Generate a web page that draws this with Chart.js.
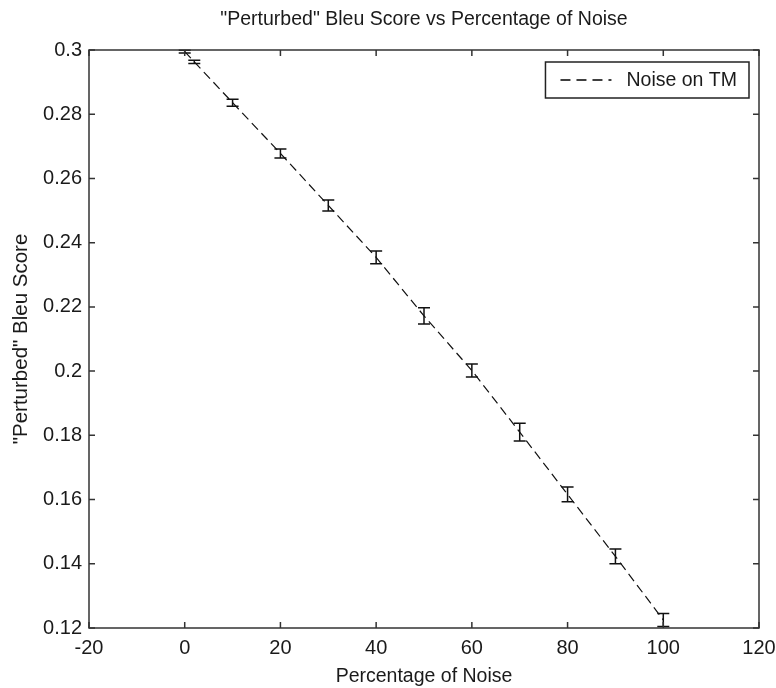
<!DOCTYPE html>
<html>
<head>
<meta charset="utf-8">
<script src="https://cdn.jsdelivr.net/npm/chart.js@4.4.0/dist/chart.umd.min.js"></script>
<style>
  html, body { margin: 0; padding: 0; background: #fff; }
  #wrap { width: 776px; height: 688px; }
</style>
</head>
<body>
<div id="wrap"><canvas id="chart"></canvas></div>
<script>
const noisePct = [0, 2, 10, 20, 30, 40, 50, 60, 70, 80, 90, 100];
const bleuScore = [0.2995, 0.2963, 0.2836, 0.2678, 0.2516, 0.2354, 0.2172, 0.2002, 0.181, 0.1616, 0.1423, 0.1225];
const bleuErr = [0.0004, 0.0005, 0.0011, 0.0014, 0.0017, 0.002, 0.0025, 0.002, 0.0028, 0.0023, 0.0023, 0.002];
const xTicks = [-20, 0, 20, 40, 60, 80, 100, 120];
const yTicks = [0.12, 0.14, 0.16, 0.18, 0.2, 0.22, 0.24, 0.26, 0.28, 0.3];
const seriesLabel = 'Noise on TM';

const FONT = "'Liberation Sans', Arial, sans-serif";
const INK = '#1a1a1a';

// error bars, drawn through the chart scales
const errorBars = {
  id: 'errorBars',
  afterDatasetsDraw(chart) {
    const { ctx, scales: { x, y } } = chart;
    ctx.save();
    ctx.strokeStyle = '#111';
    ctx.lineWidth = 1.5;
    noisePct.forEach((v, i) => {
      const px = x.getPixelForValue(v);
      const top = y.getPixelForValue(bleuScore[i] + bleuErr[i]);
      const bot = y.getPixelForValue(bleuScore[i] - bleuErr[i]);
      ctx.beginPath();
      ctx.moveTo(px, top); ctx.lineTo(px, bot);
      ctx.moveTo(px - 6, top); ctx.lineTo(px + 6, top);
      ctx.moveTo(px - 6, bot); ctx.lineTo(px + 6, bot);
      ctx.stroke();
    });
    ctx.restore();
  }
};

// matlab style box with inward ticks on all four sides
const axesBox = {
  id: 'axesBox',
  afterDraw(chart) {
    const { ctx, chartArea: a, scales: { x, y } } = chart;
    ctx.save();
    ctx.strokeStyle = '#333';
    ctx.lineWidth = 1.5;
    ctx.strokeRect(a.left, a.top, a.right - a.left, a.bottom - a.top);
    ctx.beginPath();
    xTicks.forEach(v => {
      const px = x.getPixelForValue(v);
      ctx.moveTo(px, a.bottom); ctx.lineTo(px, a.bottom - 6);
      ctx.moveTo(px, a.top); ctx.lineTo(px, a.top + 6);
    });
    yTicks.forEach(v => {
      const py = y.getPixelForValue(v);
      ctx.moveTo(a.left, py); ctx.lineTo(a.left + 6, py);
      ctx.moveTo(a.right, py); ctx.lineTo(a.right - 6, py);
    });
    ctx.stroke();
    ctx.restore();
  }
};

// boxed legend in the top right corner of the plot
const boxLegend = {
  id: 'boxLegend',
  afterDraw(chart) {
    const { ctx, chartArea: a } = chart;
    const label = chart.data.datasets[0].label;
    ctx.save();
    ctx.font = '19.5px ' + FONT;
    const tw = ctx.measureText(label).width;
    const right = a.right - 10, top = a.top + 12, h = 36;
    const left = right - (15 + 51 + 15 + tw + 12);
    ctx.fillStyle = '#fff';
    ctx.fillRect(left, top, right - left, h);
    ctx.strokeStyle = '#222';
    ctx.lineWidth = 1.5;
    ctx.strokeRect(left, top, right - left, h);
    ctx.beginPath();
    ctx.setLineDash([10, 6]);
    ctx.strokeStyle = '#000';
    ctx.lineWidth = 1.4;
    ctx.moveTo(left + 15, top + h / 2);
    ctx.lineTo(left + 66, top + h / 2);
    ctx.stroke();
    ctx.setLineDash([]);
    ctx.fillStyle = INK;
    ctx.textBaseline = 'middle';
    ctx.fillText(label, left + 81, top + h / 2 + 1);
    ctx.restore();
  }
};

new Chart(document.getElementById('chart'), {
  type: 'line',
  data: {
    datasets: [{
      label: seriesLabel,
      data: noisePct.map((v, i) => ({ x: v, y: bleuScore[i] })),
      borderColor: '#111',
      borderWidth: 1.2,
      borderDash: [9, 5],
      pointRadius: 0,
      fill: false,
      tension: 0
    }]
  },
  options: {
    responsive: true,
    maintainAspectRatio: false,
    animation: false,
    layout: { padding: { left: 0, right: 17, top: 0, bottom: 0 } },
    plugins: {
      legend: { display: false },
      tooltip: { enabled: false },
      title: {
        display: true,
        fullSize: false,
        text: '"Perturbed" Bleu Score vs Percentage of Noise',
        color: INK,
        font: { family: FONT, size: 19.5, weight: 'normal', lineHeight: 1.2 },
        padding: { top: 8, bottom: 18.6 }
      }
    },
    scales: {
      x: {
        type: 'linear',
        min: -20,
        max: 120,
        afterBuildTicks: s => { s.ticks = xTicks.map(v => ({ value: v })); },
        afterFit: s => { s.height = 60; s.paddingLeft = 0; s.paddingRight = 0; },
        grid: { display: false },
        border: { display: false },
        ticks: { color: INK, padding: 0, maxRotation: 0, font: { family: FONT, size: 20 } },
        title: {
          display: true,
          text: 'Percentage of Noise',
          color: INK,
          font: { family: FONT, size: 19.5, lineHeight: 1.2 },
          padding: { top: 0, bottom: 0 }
        }
      },
      y: {
        type: 'linear',
        min: 0.12,
        max: 0.3,
        afterBuildTicks: s => { s.ticks = yTicks.map(v => ({ value: v })); },
        afterFit: s => { s.width = 89; s.paddingTop = 0; s.paddingBottom = 0; },
        grid: { display: false, drawTicks: false },
        border: { display: false },
        ticks: {
          color: INK,
          padding: 7,
          font: { family: FONT, size: 20 },
          callback: v => String(parseFloat(v.toFixed(2)))
        },
        title: {
          display: true,
          text: '"Perturbed" Bleu Score',
          color: INK,
          font: { family: FONT, size: 20.5, lineHeight: 1.2 },
          padding: { top: 9, bottom: 0 }
        }
      }
    }
  },
  plugins: [errorBars, axesBox, boxLegend]
});
</script>
</body>
</html>
